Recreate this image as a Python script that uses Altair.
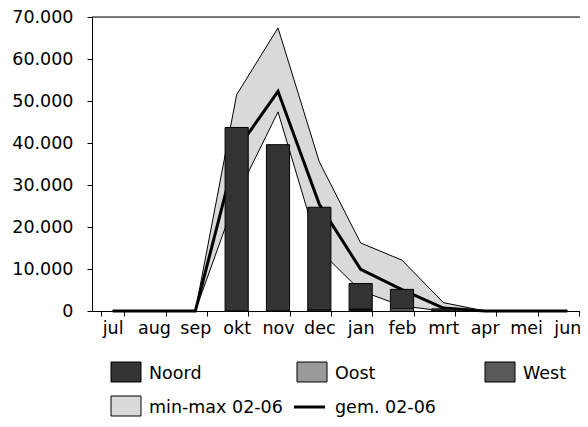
import altair as alt
import pandas as pd

months = ["jul", "aug", "sep", "okt", "nov", "dec", "jan", "feb", "mrt", "apr", "mei", "jun"]
noord = [0, 0, 0, 43700, 39600, 24500, 6150, 4650, 500, 0, 0, 0]
oost = [0, 0, 0, 0, 0, 200, 250, 500, 0, 0, 0, 0]
west = [0, 0, 0, 0, 0, 0, 150, 0, 0, 0, 0, 0]
gem_02_06 = [0, 0, 0, 38300, 52300, 25400, 9900, 5100, 700, 0, 0, 0]
min_02_06 = [0, 0, 0, 27400, 47400, 14500, 4800, 1200, 0, 0, 0, 0]
max_02_06 = [0, 0, 0, 51500, 67400, 35500, 16200, 12100, 2000, 0, 0, 0]

series = ["Noord", "Oost", "West"]
series_colors = ["#333333", "#999999", "#595959"]
band_color = "#d9d9d9"
band_label = "min-max 02-06"
line_label = "gem. 02-06"
y_ticks = [0, 10000, 20000, 30000, 40000, 50000, 60000, 70000]

FONT = "DejaVu Sans"
FS = 17.5
PLOT_W = 488      # visible plot width (svg must fit in the page)
PLOT_H = 294
X_RANGE = 496     # month scale runs slightly past the visible edge, as in the original

# stacked bar table (Oost / West drawn at the bottom, Noord on top)
stack_pos = {"Oost": 0, "West": 1, "Noord": 2}
rows = []
for name, vals in zip(series, [noord, oost, west]):
    for m, v in zip(months, vals):
        rows.append({"month": m, "serie": name, "value": v, "stackpos": stack_pos[name]})
bars_df = pd.DataFrame(rows)
band_df = pd.DataFrame({"month": months, "lo": min_02_06, "hi": max_02_06, "gem": gem_02_06})

x_scale = alt.Scale(range=[0, X_RANGE], paddingInner=0.44, paddingOuter=0.22)
y_scale = alt.Scale(domain=[0, 70000], nice=False, zero=True)

x_axis = alt.Axis(title=None, labelAngle=0, tickBand="extent", grid=False,
                  labelFont=FONT, labelFontSize=FS, labelColor="black",
                  domainColor="black", tickColor="black", tickSize=5, labelPadding=3)
y_axis = alt.Axis(title=None, values=y_ticks, grid=False,
                  labelExpr="replace(format(datum.value, ',d'), ',', '.')",
                  labelFont=FONT, labelFontSize=FS, labelColor="black",
                  domainColor="black", tickColor="black", tickSize=5, labelPadding=14)

base_x = alt.X("month:N", sort=months, scale=x_scale, axis=x_axis)

area = alt.Chart(band_df).mark_area(fill=band_color, stroke="black", strokeWidth=1).encode(
    x=base_x,
    y=alt.Y("lo:Q", scale=y_scale, axis=y_axis),
    y2="hi:Q",
)

line = alt.Chart(band_df).mark_line(color="black", strokeWidth=3).encode(
    x=alt.X("month:N", sort=months),
    y=alt.Y("gem:Q"),
)

bars = alt.Chart(bars_df).transform_filter("datum.value > 0").mark_bar(
    stroke="black", strokeWidth=1
).encode(
    x=alt.X("month:N", sort=months),
    y=alt.Y("value:Q", stack="zero"),
    color=alt.Color("serie:N", scale=alt.Scale(domain=series, range=series_colors), legend=None),
    order=alt.Order("stackpos:Q"),
)

frame_top = alt.Chart(pd.DataFrame({"k": [0]})).mark_rule(color="black", strokeWidth=1).encode(
    x=alt.value(0), x2=alt.value(X_RANGE), y=alt.value(0)
)

# manual legend (pixel offsets relative to the plot area)
ROW1, ROW2 = 345, 379
legend_layers = []
swatch_items = [
    ("Noord", series_colors[0], 19, ROW1),
    ("Oost", series_colors[1], 205, ROW1),
    ("West", series_colors[2], 393, ROW1),
    (band_label, band_color, 19, ROW2),
]
for label, col, px, py in swatch_items:
    d = pd.DataFrame({"label": [label]})
    legend_layers.append(
        alt.Chart(d).mark_rect(fill=col, stroke="black", strokeWidth=1).encode(
            x=alt.value(px), x2=alt.value(px + 30), y=alt.value(py), y2=alt.value(py + 20)
        )
    )
    legend_layers.append(
        alt.Chart(d).mark_text(align="left", baseline="alphabetic", font=FONT, fontSize=FS, color="black").encode(
            x=alt.value(px + 38), y=alt.value(py + 17), text="label:N"
        )
    )
d_line = pd.DataFrame({"label": [line_label]})
legend_layers.append(
    alt.Chart(d_line).mark_rule(color="black", strokeWidth=3).encode(
        x=alt.value(202), x2=alt.value(233), y=alt.value(ROW2 + 11)
    )
)
legend_layers.append(
    alt.Chart(d_line).mark_text(align="left", baseline="alphabetic", font=FONT, fontSize=FS, color="black").encode(
        x=alt.value(243), y=alt.value(ROW2 + 17), text="label:N"
    )
)

chart = alt.layer(area, line, bars, frame_top, *legend_layers).properties(
    width=PLOT_W,
    height=PLOT_H,
    autosize=alt.AutoSizeParams(type="none"),
    padding={"left": 84, "top": 9, "right": 0, "bottom": 108},
).configure_view(strokeWidth=0).configure(background="white")

chart.save("out.html", embed_options={"renderer": "svg", "actions": False})
